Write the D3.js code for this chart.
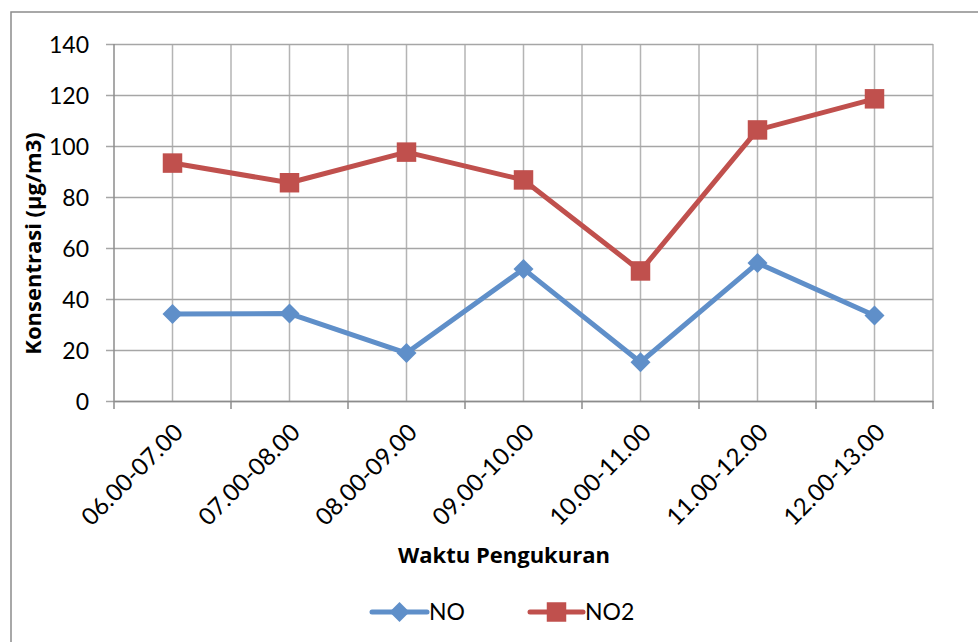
<!DOCTYPE html>
<html>
<head>
<meta charset="utf-8">
<script src="https://cdn.jsdelivr.net/npm/d3@7"></script>
<style>
  body { margin: 0; background: #fff; }
  text { font-family: Lato, "Open Sans", sans-serif; fill: #000; }
  .title { font-family: "Open Sans", Lato, sans-serif; font-weight: bold; }
</style>
</head>
<body>
<svg id="chart" width="978" height="642"></svg>
<script>
// data
const categories = ["06.00-07.00", "07.00-08.00", "08.00-09.00", "09.00-10.00",
    "10.00-11.00", "11.00-12.00", "12.00-13.00"];
const valuesNO = [34.1, 34.3, 18.8, 51.8, 15.2, 54.1, 33.5];
const valuesNO2 = [93.3, 85.6, 97.6, 86.7, 51.0, 106.3, 118.5];
const yTicks = [0, 20, 40, 60, 80, 100, 120, 140];

const svg = d3.select("#chart");

// outer chart border
svg.append("rect")
    .attr("x", 11).attr("y", 12)
    .attr("width", 1000).attr("height", 700)
    .attr("fill", "none")
    .attr("stroke", "#8c8c8c")
    .attr("stroke-width", 1.5);

const plotL = 114, plotR = 933, plotT = 44, plotB = 401;

const x = d3.scaleBand().domain(categories).range([plotL, plotR]);
const cx = d => x(d) + x.bandwidth() / 2;
const y = d3.scaleLinear().domain([0, 140]).range([plotB, plotT]);

// vertical gridlines: every category boundary and centre
const vLines = [];
categories.forEach(c => { vLines.push(cx(c)); vLines.push(x(c) + x.bandwidth()); });
svg.append("g")
    .selectAll("line")
    .data(vLines)
    .join("line")
    .attr("x1", d => d).attr("x2", d => d)
    .attr("y1", plotT).attr("y2", plotB)
    .attr("stroke", "#b4b4b4")
    .attr("stroke-width", 1.5);

// y axis with gridlines
const yAxis = d3.axisLeft(y)
    .tickValues(yTicks)
    .tickSize(-(plotR - plotL))
    .tickSizeOuter(0);
const gy = svg.append("g")
    .attr("transform", `translate(${plotL},0)`)
    .call(yAxis);
gy.select(".domain").remove();
gy.selectAll(".tick line")
    .attr("x1", -8)
    .attr("stroke", "#a6a6a6")
    .attr("stroke-width", 1.5);
gy.selectAll(".tick text")
    .attr("font-size", 23)
    .attr("x", -25)
    .attr("dy", "0.36em");
svg.append("line")
    .attr("x1", plotL).attr("x2", plotL)
    .attr("y1", plotT).attr("y2", plotB)
    .attr("stroke", "#8c8c8c").attr("stroke-width", 1.5);

// x axis
const xAxis = d3.axisBottom(x).tickSize(0).tickSizeOuter(0);
const gx = svg.append("g")
    .attr("transform", `translate(0,${plotB})`)
    .call(xAxis);
gx.select(".domain")
    .attr("stroke", "#8c8c8c")
    .attr("stroke-width", 1.5);
gx.selectAll(".tick line").remove();
gx.selectAll(".tick text")
    .attr("font-size", 24)
    .attr("text-anchor", "end")
    .attr("x", 0).attr("y", 0).attr("dy", 0)
    .attr("transform", "translate(12,33) rotate(-45)");
// tick marks at category boundaries
const bounds = [plotL].concat(categories.map(c => x(c) + x.bandwidth()));
svg.append("g")
    .selectAll("line")
    .data(bounds)
    .join("line")
    .attr("x1", d => d).attr("x2", d => d)
    .attr("y1", plotB).attr("y2", plotB + 8)
    .attr("stroke", "#8c8c8c").attr("stroke-width", 1.5);

// axis titles
svg.append("text")
    .attr("class", "title")
    .attr("transform", `translate(41,${(130 + 357) / 2}) rotate(-90)`)
    .attr("text-anchor", "middle")
    .attr("font-size", 22)
    .text("Konsentrasi (µg/m3)");
svg.append("text")
    .attr("class", "title")
    .attr("x", 504).attr("y", 563)
    .attr("text-anchor", "middle")
    .attr("font-size", 22)
    .text("Waktu Pengukuran");

// series
const diamond = d3.symbol(d3.symbolSquare, 200);
const series = [
    {name: "NO", values: valuesNO, color: "#5f8fc9", marker: d3.symbolSquare, size: 200, rot: 45},
    {name: "NO2", values: valuesNO2, color: "#c0504d", marker: d3.symbolSquare, size: 380, rot: 0}
];
const line = d3.line().x((d, i) => cx(categories[i])).y(d => y(d));

series.forEach(s => {
    svg.append("path")
        .datum(s.values)
        .attr("fill", "none")
        .attr("stroke", s.color)
        .attr("stroke-width", 5)
        .attr("stroke-linejoin", "round")
        .attr("d", line);
    svg.append("g")
        .selectAll("path")
        .data(s.values)
        .join("path")
        .attr("transform", (d, i) => `translate(${cx(categories[i])},${y(d)}) rotate(${s.rot})`)
        .attr("d", d3.symbol(s.marker, s.size))
        .attr("fill", s.color);
});

// legend
const legendPos = [{x0: 372, x1: 427}, {x0: 530, x1: 583}];
series.forEach((s, i) => {
    const p = legendPos[i];
    const g = svg.append("g");
    g.append("line")
        .attr("x1", p.x0).attr("x2", p.x1)
        .attr("y1", 612).attr("y2", 612)
        .attr("stroke", s.color).attr("stroke-width", 5)
        .attr("stroke-linecap", "round");
    g.append("path")
        .attr("transform", `translate(${(p.x0 + p.x1) / 2},612) rotate(${s.rot})`)
        .attr("d", d3.symbol(s.marker, s.size))
        .attr("fill", s.color);
    g.append("text")
        .attr("x", p.x1 + 2).attr("y", 620)
        .attr("font-size", 23)
        .text(s.name);
});
</script>
</body>
</html>
